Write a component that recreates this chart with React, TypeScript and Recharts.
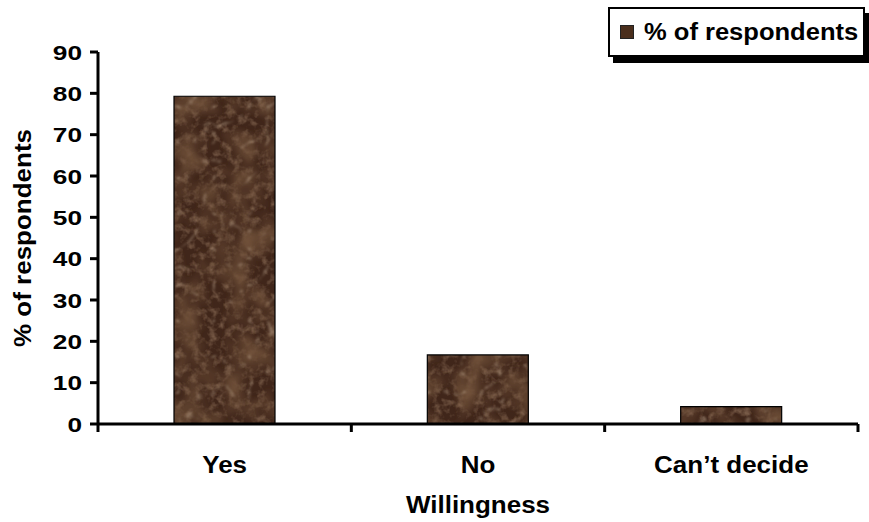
import { BarChart, Bar, XAxis, YAxis, Legend } from "recharts";

// survey answers
const choices = ["Yes", "No", "Can\u2019t decide"];
const respondentPct = [79.3, 16.7, 4.2];
const yTicks = [0, 10, 20, 30, 40, 50, 60, 70, 80, 90];

const seriesName = "% of respondents";
const xTitle = "Willingness";

const W = 869;
const H = 522;
const FONT = "'Liberation Sans', Arial, Helvetica, sans-serif";
const TICK_SIZE = 8;
const TICK_MARGIN = 8;
const STRETCH = 1.13;

const data = choices.map((c, i) => ({ choice: c, pct: respondentPct[i] }));

// bold text, a little wider than the plain font
function WideText({ x, y, size, anchor = "middle", sx = STRETCH, rotate = 0, baseline, children }: any) {
  return (
    <text
      x={0}
      y={0}
      transform={`translate(${x} ${y}) rotate(${rotate}) scale(${sx} 1)`}
      textAnchor={anchor}
      dominantBaseline={baseline}
      fontFamily={FONT}
      fontWeight="bold"
      fontSize={size}
      fill="#000"
    >
      {children}
    </text>
  );
}

function CategoryTick(props: any) {
  const { x, y, payload, index, visibleTicksCount } = props;
  const axisY = y - TICK_SIZE - TICK_MARGIN;
  const half = payload.offset ?? 0;
  const last = index === visibleTicksCount - 1;
  return (
    <g>
      <line x1={x - half} x2={x - half} y1={axisY} y2={axisY + TICK_SIZE} stroke="#000" strokeWidth={3} />
      {last && <line x1={x + half} x2={x + half} y1={axisY} y2={axisY + TICK_SIZE} stroke="#000" strokeWidth={3} />}
      <WideText x={x} y={axisY + 49} size={23}>
        {payload.value}
      </WideText>
    </g>
  );
}

function ValueTick(props: any) {
  const { x, y, payload } = props;
  return (
    <WideText x={x} y={y + 7.5} size={21} anchor="end" sx={1.25}>
      {payload.value}
    </WideText>
  );
}

function LegendBox() {
  return (
    <div
      style={{
        boxSizing: "border-box",
        width: 257,
        height: 50,
        border: "2px solid #000",
        boxShadow: "5px 6px 0 #000",
        background: "#fff",
        display: "flex",
        alignItems: "center",
        paddingLeft: 10,
        fontFamily: FONT,
        fontWeight: "bold",
        fontSize: 23,
        color: "#000",
        whiteSpace: "nowrap",
      }}
    >
      <span style={{ display: "inline-block", flex: "none", width: 12, height: 12, background: "#4a2e1c", border: "1px solid #222", marginRight: 10 }} />
      <span style={{ display: "inline-block", transform: "scaleX(1.11)", transformOrigin: "left center" }}>{seriesName}</span>
    </div>
  );
}

export default function App() {
  return (
    <div style={{ position: "absolute", left: 0, top: 0, width: W, height: H, background: "#fff" }}>
      <BarChart width={W} height={H} data={data} margin={{ top: 52, right: 11, bottom: 0, left: 0 }} barCategoryGap="30%">
        <defs>
          {/* soft mottling, dark patches and thin pale veins make the marble fill */}
          <filter id="grain" filterUnits="userSpaceOnUse" x={0} y={0} width={W} height={H}>
            <feTurbulence type="fractalNoise" baseFrequency="0.12" numOctaves={3} seed={5} />
            <feColorMatrix type="matrix" values="0 0 0 0 0.46  0 0 0 0 0.30  0 0 0 0 0.19  1.2 0 0 0 -0.55" />
            <feGaussianBlur stdDeviation="0.7" />
          </filter>
          <filter id="blotch" filterUnits="userSpaceOnUse" x={0} y={0} width={W} height={H}>
            <feTurbulence type="fractalNoise" baseFrequency="0.035" numOctaves={3} seed={3} />
            <feColorMatrix type="matrix" values="0 0 0 0 0.16  0 0 0 0 0.08  0 0 0 0 0.04  2.2 0 0 0 -0.85" />
            <feGaussianBlur stdDeviation="2" />
          </filter>
          <filter id="veins" filterUnits="userSpaceOnUse" x={0} y={0} width={W} height={H}>
            <feTurbulence type="turbulence" baseFrequency="0.028" numOctaves={3} seed={11} />
            <feColorMatrix type="matrix" values="0 0 0 0 0.66  0 0 0 0 0.52  0 0 0 0 0.38  -5 0 0 0 0.55" />
            <feGaussianBlur stdDeviation="0.9" />
          </filter>
          <pattern id="marble" patternUnits="userSpaceOnUse" x={0} y={0} width={W} height={H}>
            <rect x={0} y={0} width={W} height={H} fill="#40261a" />
            <rect x={0} y={0} width={W} height={H} filter="url(#grain)" />
            <rect x={0} y={0} width={W} height={H} filter="url(#blotch)" />
            <rect x={0} y={0} width={W} height={H} filter="url(#veins)" />
          </pattern>
        </defs>
        <XAxis
          dataKey="choice"
          height={98}
          axisLine={{ stroke: "#000", strokeWidth: 3 }}
          tickLine={false}
          tickSize={TICK_SIZE}
          tickMargin={TICK_MARGIN}
          interval={0}
          tick={<CategoryTick />}
          label={(p: any) => {
            const vb = p.viewBox;
            return (
              <WideText x={vb.x + vb.width / 2} y={vb.y + 89} size={23}>
                {xTitle}
              </WideText>
            );
          }}
        />
        <YAxis
          width={98}
          domain={[0, 90]}
          ticks={yTicks}
          interval={0}
          axisLine={{ stroke: "#000", strokeWidth: 3 }}
          tickLine={{ stroke: "#000", strokeWidth: 3 }}
          tickSize={TICK_SIZE}
          tickMargin={TICK_MARGIN}
          tick={<ValueTick />}
          label={(p: any) => {
            const vb = p.viewBox;
            return (
              <WideText x={vb.x + 23} y={vb.y + vb.height / 2} size={23} rotate={-90} baseline="central">
                {seriesName}
              </WideText>
            );
          }}
        />
        <Legend
          verticalAlign="middle"
          align="center"
          layout="horizontal"
          wrapperStyle={{ top: 7, left: 608, width: 257, height: 50 }}
          content={() => <LegendBox />}
        />
        <Bar dataKey="pct" name={seriesName} fill="url(#marble)" stroke="#000" strokeWidth={1.2} isAnimationActive={false} />
      </BarChart>
    </div>
  );
}
